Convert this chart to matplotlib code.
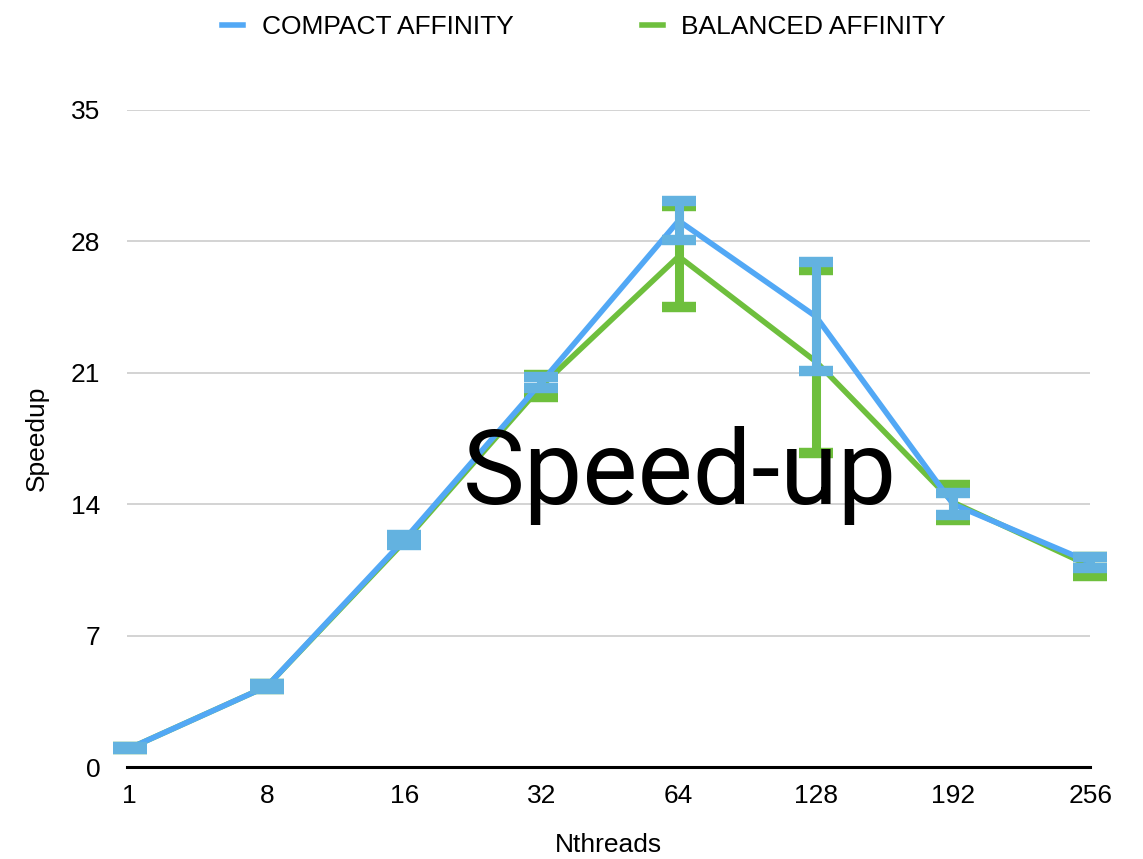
import matplotlib
matplotlib.use("Agg")
import matplotlib.pyplot as plt
from matplotlib.lines import Line2D
import numpy as np

categories = ["1", "8", "16", "32", "64", "128", "192", "256"]
compact = [1.0, 4.3, 12.1, 20.5, 29.1, 24.0, 14.0, 10.9]
compact_err = [0.05, 0.12, 0.25, 0.3, 1.05, 2.9, 0.6, 0.3]
balanced = [1.0, 4.3, 12.0, 20.3, 27.2, 21.6, 14.1, 10.7]
balanced_err = [0.05, 0.12, 0.1, 0.6, 2.7, 4.85, 0.95, 0.5]
yticks = [0, 7, 14, 21, 28, 35]

BLUE = "#52A8F5"
BLUE_ERR = "#63B2E0"
GREEN = "#6EBF3D"

plt.rcParams['font.family'] = ['Liberation Sans', 'DejaVu Sans']

fig = plt.figure(figsize=(11.43, 8.59), dpi=100)
ax = fig.add_axes([0.111, 0.107, 0.843, 0.765])

x = np.arange(len(categories))

for vals, errs, lc, ec, z in [(balanced, balanced_err, GREEN, GREEN, 3),
                              (compact, compact_err, BLUE, BLUE_ERR, 4)]:
    ax.plot(x, vals, color=lc, lw=4, zorder=z, clip_on=False, solid_capstyle='round')
    eb = ax.errorbar(x, vals, yerr=errs, fmt='none', ecolor=ec, elinewidth=6.5,
                     capsize=12.5, capthick=7.5, zorder=z + 0.5)
    for art in eb.lines[1]:
        art.set_clip_on(False)
    for art in eb.lines[2]:
        art.set_clip_on(False)

ax.set_xlim(-0.02, 7.0)
ax.set_ylim(0, 35)
ax.set_yticks(yticks)
ax.set_yticklabels([str(t) for t in yticks])
ax.set_xticks(x)
ax.set_xticklabels(categories)
ax.yaxis.grid(True, color="#c8c8c8", lw=1.1)
ax.set_axisbelow(True)
for s in ["top", "right", "left"]:
    ax.spines[s].set_visible(False)
ax.spines["bottom"].set_linewidth(2.2)
ax.spines["bottom"].set_color("black")
ax.spines["bottom"].set_zorder(2)
ax.tick_params(axis='both', length=0, labelsize=19)
ax.tick_params(axis='y', pad=19)
ax.tick_params(axis='x', pad=12)

ax.set_ylabel("Speedup", fontsize=19, labelpad=16)
ax.set_xlabel("Nthreads", fontsize=19, labelpad=18)

handles = [Line2D([], [], color=BLUE, lw=4), Line2D([], [], color=GREEN, lw=4)]
fig.legend(handles, ["COMPACT AFFINITY", "BALANCED AFFINITY"],
           loc="center", bbox_to_anchor=(0.511, 0.968), ncol=2, frameon=False,
           prop={'size': 19},
           handlelength=0.8, handletextpad=0.7, columnspacing=4.85)

fig.text(0.595, 1 - 504 / 859, "Speed-up", fontsize=75, ha="center", va="baseline",
         family=['Roboto', 'DejaVu Sans'], weight='normal', color='black', zorder=10)

fig.savefig("out.png", dpi=100)
